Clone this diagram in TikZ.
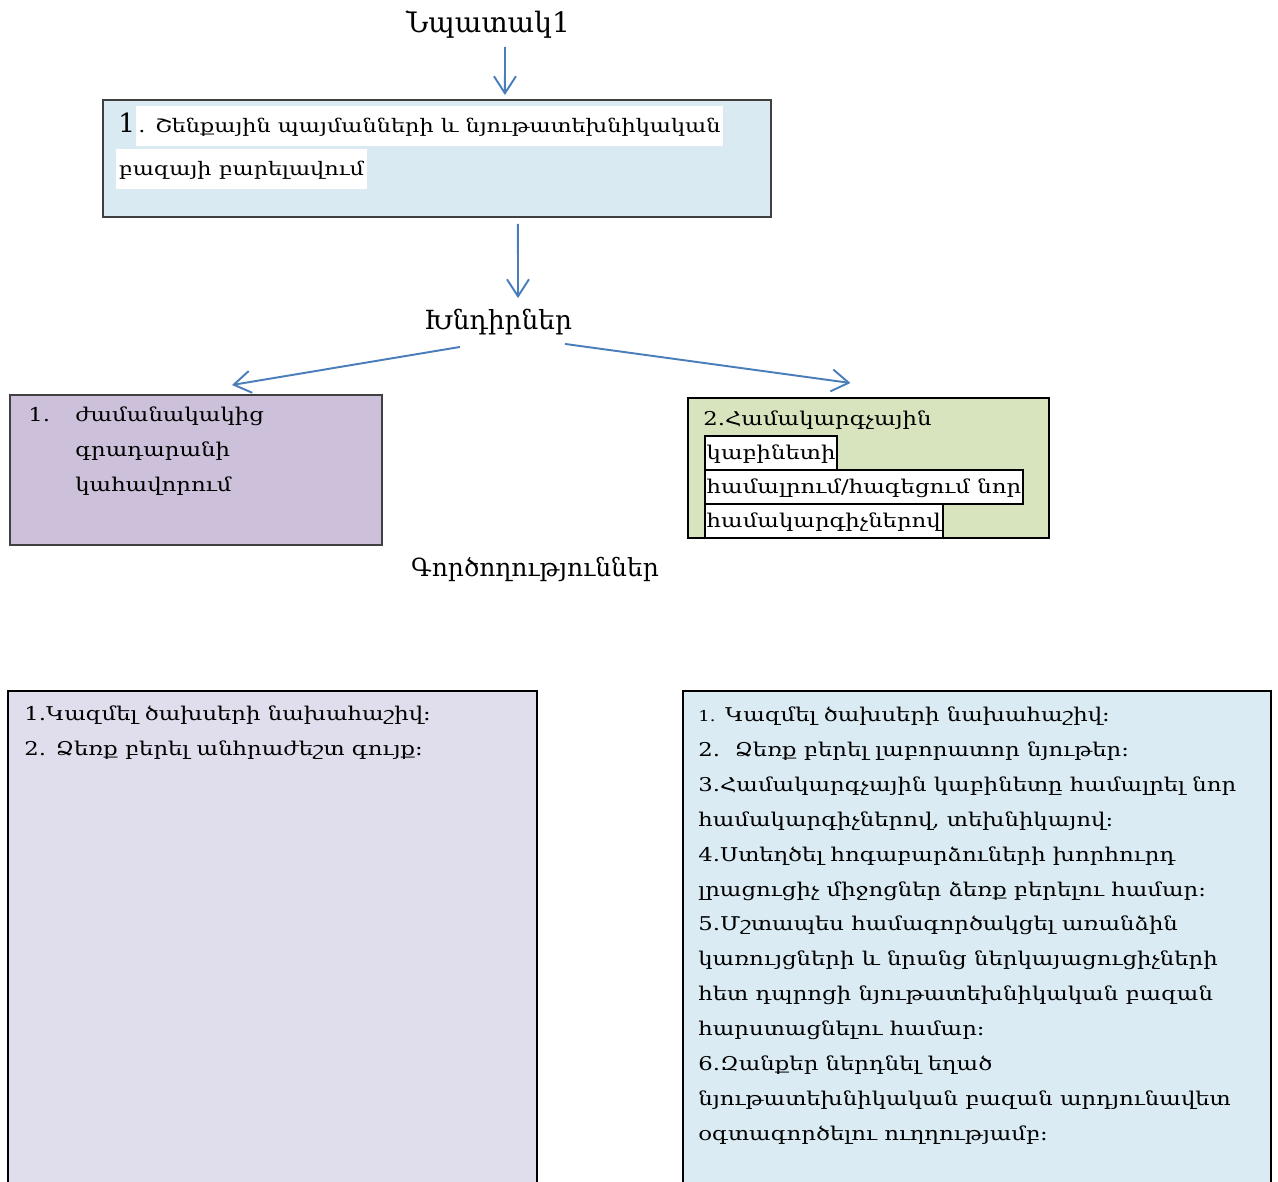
\documentclass[tikz,border=0pt]{standalone}
\usepackage{fontspec}
\setmainfont{DejaVu Serif}
\newfontfamily\bodyfont[FakeStretch=1.2]{DejaVu Serif}
\usetikzlibrary{arrows.meta, positioning, calc}

\definecolor{arrowblue}{HTML}{4A7EBB}
\definecolor{goalfill}{HTML}{DAEAF2}
\definecolor{libfill}{HTML}{CCC0DA}
\definecolor{pcfill}{HTML}{D7E4BD}
\definecolor{actfillA}{HTML}{E0DEEC}
\definecolor{actfillB}{HTML}{DAEBF3}

\tikzstyle{panel} = [
	rectangle,
	anchor=north west,
	inner sep=0pt,
	outer sep=0pt,
	draw=black,
	line width=1pt
]
\tikzstyle{heading} = [
	inner sep=0pt,
	outer sep=0pt,
	font=\fontsize{15}{18}\selectfont
]
\tikzstyle{txt} = [
	anchor=base west,
	inner sep=0pt,
	align=left,
	font=\bodyfont\fontsize{10.8}{19.84}\selectfont
]
\tikzstyle{hilite} = [
	anchor=base west,
	fill=white,
	inner xsep=1.5pt,
	inner ysep=0pt,
	text height=15pt,
	text depth=8pt,
	font=\bodyfont\fontsize{10.6}{12}\selectfont
]
\tikzstyle{boxline} = [
	anchor=base west,
	draw=black,
	line width=1.1pt,
	fill=white,
	inner xsep=1pt,
	inner ysep=0pt,
	text height=13pt,
	text depth=6pt,
	font=\bodyfont\fontsize{10.8}{12}\selectfont
]
\tikzstyle{arrow} = [arrowblue, line width=1.1pt, -{Straight Barb[length=0.34cm, width=0.44cm]}]

\begin{document}
\begin{tikzpicture}[x=0.02cm, y=-0.02cm]
	\useasboundingbox (0,0) rectangle (1278,1181);
	\clip (0,0) rectangle (1278,1181);

	% goal
	\node (goal) [heading, font=\fontsize{16}{18}\selectfont] at (488,25) {Նպատակ1};
	\node (aim) [panel, fill=goalfill, draw=black!75, minimum width=13.36cm, minimum height=2.34cm] at (103,100) {};
	\node (aimnum) [anchor=base west, inner sep=0pt, font=\fontsize{15}{16}\selectfont] at (118,132) {1};
	\node (aimone) [hilite] at (aimnum.base east) {. Շենքային պայմանների և նյութատեխնիկական};
	\node (aimtwo) [hilite] at (116,175) {բազայի բարելավում};

	% tasks
	\node (tasks) [heading] at (498,322) {Խնդիրներ};
	\node (lib) [panel, fill=libfill, draw=black!75, minimum width=7.44cm, minimum height=3cm] at (10,395) {};
	\node (libnum) [txt] at (28,421) {1.};
	\node (libtext) [txt] at (75,491) {ժամանակակից\\գրադարանի\\կահավորում};
	\node (pc) [panel, fill=pcfill, line width=1.1pt, minimum width=7.22cm, minimum height=2.8cm] at (688,398) {};
	\node (pcone) [txt] at (703,425) {2.Համակարգչային};
	\node (pctwo) [boxline] at (704,459) {կաբինետի};
	\node (pcthree) [boxline] at (704,493) {համալրում/հագեցում նոր};
	\node (pcfour) [boxline] at (704,527) {համակարգիչներով};

	% actions
	\node (actions) [heading, font=\fontsize{14.2}{16}\selectfont] at (535,569) {Գործողություններ};
	\node (costs) [panel, fill=actfillA, minimum width=10.58cm, minimum height=10.4cm] at (8,691) {};
	\node (coststext) [txt] at (24,755) {1.Կազմել ծախսերի նախահաշիվ։\\2. Ձեռք բերել անհրաժեշտ գույք։};
	\node (plan) [panel, fill=actfillB, minimum width=11.76cm, minimum height=10.4cm] at (683,691) {};
	\node (plantext) [txt] at (698,1140) {{\fontsize{8.5}{10}\selectfont 1.} Կազմել ծախսերի նախահաշիվ։\\
		2.\ \ Ձեռք բերել լաբորատոր նյութեր։\\
		3.Համակարգչային կաբինետը համալրել նոր\\
		համակարգիչներով, տեխնիկայով։\\
		4.Ստեղծել հոգաբարձուների խորհուրդ\\
		լրացուցիչ միջոցներ ձեռք բերելու համար։\\
		5.Մշտապես համագործակցել առանձին\\
		կառույցների և նրանց ներկայացուցիչների\\
		հետ դպրոցի նյութատեխնիկական բազան\\
		հարստացնելու համար։\\
		6.Զանքեր ներդնել եղած\\
		նյութատեխնիկական բազան արդյունավետ\\
		օգտագործելու ուղղությամբ։};

	\draw [arrow] ($(goal.south)+(17,8)$) -- ($(aim.north)+(68,-5)$);
	\draw [arrow] ($(aim.south)+(81,7)$) -- ($(tasks.north)+(20,-11)$);
	\draw [arrow] ($(tasks.south west)+(36,12)$) -- ($(lib.north)+(36,-10)$);
	\draw [arrow] ($(tasks.south east)+(-7,9)$) -- ($(pc.north)+(-18,-15)$);
\end{tikzpicture}
\end{document}
